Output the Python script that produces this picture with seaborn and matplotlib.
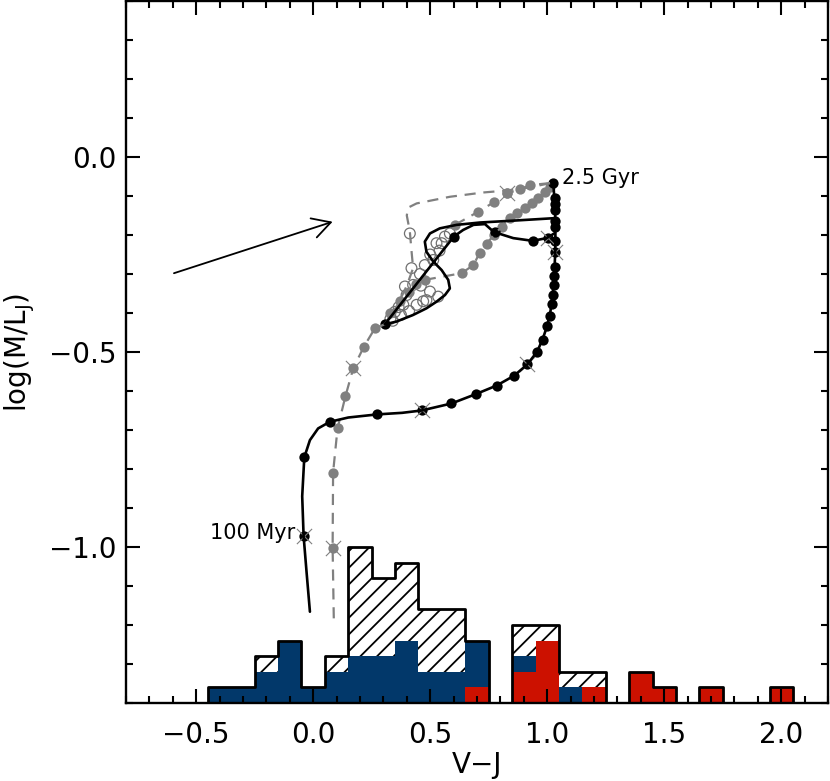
import numpy as np
import pandas as pd
import matplotlib
matplotlib.use("Agg")
import matplotlib.pyplot as plt
from matplotlib.ticker import MultipleLocator
import seaborn as sns

# histogram of observed V-J colours (counts per 0.1 mag bin)
hist_centers = [-0.4, -0.3, -0.2, -0.1, 0.0, 0.1, 0.2, 0.3, 0.4, 0.5, 0.6, 0.7, 0.8,
                0.9, 1.0, 1.1, 1.2, 1.3, 1.4, 1.5, 1.6, 1.7, 1.8, 1.9, 2.0]
hist_total = [1, 1, 3, 4, 1, 3, 10, 8, 9, 6, 6, 4, 0, 5, 5, 2, 2, 0, 2, 1, 0, 1, 0, 0, 1]
hist_blue = [1, 1, 2, 4, 1, 2, 3, 3, 4, 2, 2, 4, 0, 3, 0, 1, 0, 0, 0, 0, 0, 0, 0, 0, 0]
hist_red = [0, 0, 0, 0, 0, 0, 0, 0, 0, 0, 0, 1, 0, 2, 4, 0, 1, 0, 2, 1, 0, 1, 0, 0, 1]
hist_edges = [round(e / 100.0, 2) for e in range(-45, 206, 10)]

# track A: black solid, 100 Myr -> 2.5 Gyr
trackA_x = [-0.014, -0.028, -0.041, -0.047, -0.038, -0.014, 0.021, 0.071, 0.150, 0.274,
            0.380, 0.463, 0.591, 0.695, 0.784, 0.858, 0.915, 0.957, 0.980, 1.000, 1.014,
            1.024, 1.030, 1.034, 1.035, 1.034, 1.031, 1.026]
trackA_y = [-1.166, -1.067, -0.972, -0.870, -0.770, -0.726, -0.696, -0.679, -0.668, -0.660,
            -0.656, -0.650, -0.632, -0.608, -0.586, -0.561, -0.532, -0.499, -0.468, -0.433,
            -0.395, -0.350, -0.300, -0.250, -0.200, -0.150, -0.110, -0.067]
dotsA_x = [-0.038, 0.071, 0.274, 0.591, 0.695, 0.784, 0.858, 0.957, 0.980, 1.000, 1.012,
           1.020, 1.025, 1.028, 1.031, 1.033, 1.034, 1.034, 1.034, 1.034, 1.034, 1.033, 1.026]
dotsA_y = [-0.770, -0.679, -0.660, -0.632, -0.608, -0.586, -0.561, -0.499, -0.468, -0.433,
           -0.407, -0.377, -0.354, -0.328, -0.305, -0.281, -0.215, -0.179, -0.163, -0.136,
           -0.120, -0.106, -0.067]
crossA_x = [-0.041, 0.463, 0.915, 1.035]
crossA_y = [-0.972, -0.650, -0.532, -0.243]

# track B: black solid loop
trackB_x = [1.026, 0.860, 0.712, 0.613, 0.541, 0.499, 0.477, 0.484, 0.513, 0.549, 0.577,
            0.584, 0.563, 0.527, 0.484, 0.427, 0.356, 0.306, 0.601, 0.641, 0.685, 0.734,
            0.762, 0.776, 0.855, 0.938, 0.997, 1.033]
trackB_y = [-0.157, -0.163, -0.168, -0.174, -0.183, -0.196, -0.217, -0.243, -0.268, -0.290,
            -0.315, -0.337, -0.354, -0.371, -0.388, -0.405, -0.422, -0.429, -0.204, -0.187,
            -0.174, -0.172, -0.187, -0.193, -0.208, -0.215, -0.208, -0.195]
dotsB_x = [0.306, 0.601, 0.776, 0.938]
dotsB_y = [-0.429, -0.204, -0.193, -0.215]
crossB_x = [1.005]
crossB_y = [-0.207]

# track C: grey dashed
trackC_x = [0.088, 0.083, 0.085, 0.104, 0.138, 0.171, 0.217, 0.264, 0.306, 0.360, 0.400,
            0.427, 0.420, 0.413, 0.400, 0.405, 0.442, 0.584, 0.726, 0.826, 0.926, 1.012]
trackC_y = [-1.183, -1.003, -0.809, -0.696, -0.613, -0.542, -0.486, -0.439, -0.429, -0.380,
            -0.330, -0.285, -0.240, -0.191, -0.150, -0.130, -0.119, -0.102, -0.091, -0.086,
            -0.078, -0.067]
dotsC_x = [0.085, 0.104, 0.138, 0.217, 0.264, 0.330, 0.370, 0.410, 0.440]
dotsC_y = [-0.809, -0.696, -0.613, -0.486, -0.439, -0.400, -0.370, -0.345, -0.325]
crossC_x = [0.083, 0.171]
crossC_y = [-1.003, -0.542]

# track D: grey dotted upper branch
trackD_x = [0.606, 0.706, 0.772, 0.830, 0.883, 0.926, 1.012]
trackD_y = [-0.174, -0.140, -0.116, -0.093, -0.083, -0.072, -0.067]

# track E: grey dotted lower branch
trackE_x = [0.477, 0.634, 0.685, 0.712, 0.741, 0.773, 0.805, 0.841, 0.872, 0.905, 0.933,
            0.962, 0.990, 1.012]
trackE_y = [-0.315, -0.298, -0.277, -0.245, -0.222, -0.200, -0.179, -0.156, -0.143, -0.132,
            -0.119, -0.106, -0.091, -0.076]

# open circles
open_x = [0.413, 0.420, 0.477, 0.527, 0.499, 0.534, 0.484, 0.427, 0.399, 0.442, 0.385,
          0.349, 0.330, 0.365, 0.456, 0.513, 0.549, 0.563, 0.584, 0.460, 0.500, 0.392,
          0.340, 0.375, 0.410, 0.470, 0.540]
open_y = [-0.196, -0.285, -0.277, -0.221, -0.345, -0.358, -0.367, -0.328, -0.354, -0.379,
          -0.379, -0.397, -0.415, -0.385, -0.300, -0.264, -0.221, -0.204, -0.196, -0.330,
          -0.250, -0.332, -0.420, -0.405, -0.395, -0.370, -0.240]

BLUE = "#02386a"
RED = "#cc1100"
GREY = "#808080"

hist_df = pd.DataFrame({"vj": hist_centers, "total": hist_total,
                        "blue": hist_blue, "red": hist_red})

sns.set_style("ticks")
plt.rcParams["font.family"] = ["DejaVu Sans"]
plt.rcParams["hatch.color"] = "black"
plt.rcParams["hatch.linewidth"] = 1.3
for key in ["text.color", "axes.labelcolor", "xtick.color", "ytick.color"]:
    plt.rcParams[key] = "black"

fig = plt.figure(figsize=(8.3, 7.81), dpi=100)
rect = [0.1518, 0.0999, 0.8458, 0.8988]
ax_h = fig.add_axes(rect)
ax = fig.add_axes(rect)
ax.set_zorder(2)
ax.patch.set_visible(False)

# histogram layers: hatched total, blue and red subsets, then outline
sns.histplot(data=hist_df, x="vj", weights="total", bins=hist_edges, element="step", fill=True,
             color="white", facecolor="white", edgecolor="black", hatch="//", linewidth=0,
             alpha=1, ax=ax_h)
sns.histplot(data=hist_df, x="vj", weights="blue", bins=hist_edges, element="step", fill=True,
             color=BLUE, facecolor=BLUE, edgecolor=BLUE, linewidth=0, alpha=1, ax=ax_h)
sns.histplot(data=hist_df, x="vj", weights="red", bins=hist_edges, element="step", fill=True,
             color=RED, facecolor=RED, edgecolor=RED, linewidth=0, alpha=1, ax=ax_h)
sns.histplot(data=hist_df, x="vj", weights="total", bins=hist_edges, element="step", fill=True,
             color="black", facecolor="none", edgecolor="black", linewidth=2.0, alpha=1, ax=ax_h)
ax_h.set_xlim(-0.8, 2.2)
ax_h.set_ylim(0, 45)
ax_h.axis("off")

dash = (0, (5, 3.5))
sns.lineplot(x=trackC_x, y=trackC_y, sort=False, estimator=None, color=GREY, linewidth=1.6,
             linestyle=dash, ax=ax)
sns.lineplot(x=trackD_x, y=trackD_y, sort=False, estimator=None, color=GREY, linewidth=1.6,
             linestyle=dash, ax=ax)
sns.lineplot(x=trackE_x, y=trackE_y, sort=False, estimator=None, color=GREY, linewidth=1.6,
             linestyle=dash, ax=ax)
sns.scatterplot(x=open_x, y=open_y, s=60, facecolor="none", edgecolor="#707070", linewidth=0.9, ax=ax)
sns.scatterplot(x=dotsC_x + trackD_x[:-1] + trackE_x, y=dotsC_y + trackD_y[:-1] + trackE_y,
                s=55, color=GREY, edgecolor=GREY, linewidth=0, ax=ax)
sns.scatterplot(x=crossC_x + [trackD_x[3]], y=crossC_y + [trackD_y[3]], s=55, color=GREY,
                edgecolor=GREY, linewidth=0, ax=ax)
sns.scatterplot(x=crossC_x + [trackD_x[3]], y=crossC_y + [trackD_y[3]], s=120, marker="x",
                color=GREY, linewidth=0.8, ax=ax)

sns.lineplot(x=trackA_x, y=trackA_y, sort=False, estimator=None, color="black", linewidth=1.9, ax=ax)
sns.lineplot(x=trackB_x, y=trackB_y, sort=False, estimator=None, color="black", linewidth=1.9, ax=ax)
sns.scatterplot(x=dotsA_x + dotsB_x + crossA_x + crossB_x, y=dotsA_y + dotsB_y + crossA_y + crossB_y,
                s=55, color="black", edgecolor="black", linewidth=0, ax=ax)
sns.scatterplot(x=crossA_x + crossB_x, y=crossA_y + crossB_y, s=120, marker="x", color=GREY,
                linewidth=0.8, ax=ax)

ax.annotate("", xy=(0.083, -0.166), xytext=(-0.595, -0.298),
            arrowprops=dict(arrowstyle="->,head_length=0.65,head_width=0.36", lw=1.3,
                            color="black", shrinkA=0, shrinkB=0, mutation_scale=20))
ax.text(1.065, -0.053, "2.5 Gyr", fontsize=15, ha="left", va="center")
ax.text(-0.078, -0.965, "100 Myr", fontsize=15, ha="right", va="center")

ax.set_xlim(-0.8, 2.2)
ax.set_ylim(-1.4, 0.4)
ax.xaxis.set_major_locator(MultipleLocator(0.5))
ax.xaxis.set_minor_locator(MultipleLocator(0.1))
ax.yaxis.set_major_locator(MultipleLocator(0.5))
ax.yaxis.set_minor_locator(MultipleLocator(0.1))
ax.tick_params(which="both", direction="in", top=True, right=True, width=1.5,
               labelsize=20, color="black", labelcolor="black")
ax.tick_params(which="major", length=10)
ax.tick_params(which="minor", length=5)
ax.tick_params(axis="x", which="major", pad=13)
ax.tick_params(axis="y", which="major", pad=7)
for sp in ax.spines.values():
    sp.set_linewidth(1.7)
    sp.set_color("black")

ax.set_xlabel("V\u2212J", fontsize=20)
ax.set_ylabel("log(M/L$_\\mathregular{J}$)", fontsize=20)
ax.xaxis.set_label_coords(0.5, -0.068)
ax.yaxis.set_label_coords(-0.127, 0.5)

fig.savefig("out.png", dpi=100)
